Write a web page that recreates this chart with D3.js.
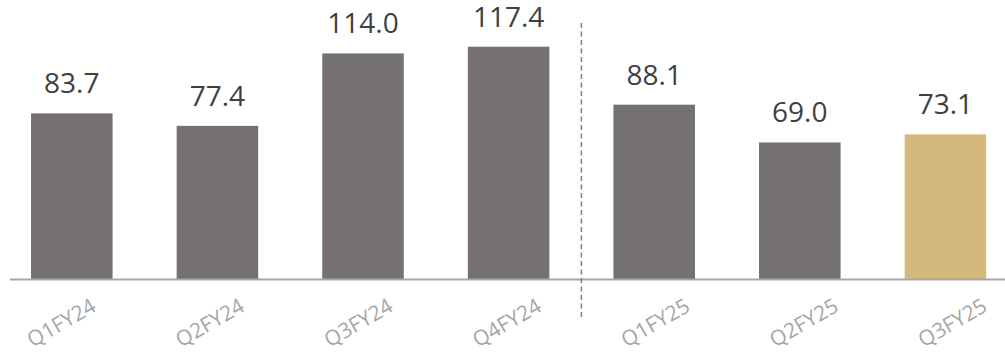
<!DOCTYPE html>
<html><head><meta charset="utf-8">
<script src="https://cdn.jsdelivr.net/npm/d3@7"></script>
<style>body{margin:0;background:#fff}</style>
</head><body>
<svg id="c" width="1005" height="354"></svg>
<script>
const categories = ["Q1FY24","Q2FY24","Q3FY24","Q4FY24","Q1FY25","Q2FY25","Q3FY25"];
const values = [83.7, 77.4, 114.0, 117.4, 88.1, 69.0, 73.1];
const highlight = ["Q3FY25"];
const dividerAfter = "Q4FY24";

const svg = d3.select("#c");
const step = 145.6;
const x = d3.scaleBand().domain(categories).range([-1, -1 + step*categories.length])
  .paddingInner(0.44).paddingOuter(0.22);
// category label positions (labels are spaced slightly wider than the bars)
const xl = d3.scalePoint().domain(categories).range([61, 952]);
const y = d3.scaleLinear().domain([0, 141]).range([279, 0]);

svg.selectAll("rect.bar").data(categories).join("rect")
  .attr("x", d => x(d)).attr("width", x.bandwidth())
  .attr("y", (d,i) => y(values[i])).attr("height", (d,i) => y(0) - y(values[i]))
  .attr("fill", d => highlight.includes(d) ? "#d4b87c" : "#767171");

// axis baseline
svg.append("line").attr("x1", 10).attr("x2", 1005).attr("y1", y(0)+0.5).attr("y2", y(0)+0.5)
  .attr("stroke", "#a6a6a6").attr("stroke-width", 2);

// divider
const i4 = categories.indexOf(dividerAfter);
const dx = (x(categories[i4]) + x.bandwidth() + x(categories[i4+1])) / 2;
svg.append("line").attr("x1", dx).attr("x2", dx).attr("y1", 23).attr("y2", 320)
  .attr("stroke", "#7f7f7f").attr("stroke-width", 1.5).attr("stroke-dasharray", "5,3.5");

// value labels
svg.selectAll("text.val").data(categories).join("text")
  .attr("x", d => x(d) + x.bandwidth()/2).attr("y", (d,i) => y(values[i]) - 20)
  .attr("text-anchor", "middle").attr("fill", "#404040")
  .style("font-family", "'Open Sans', sans-serif").style("font-size", "28px")
  .text((d,i) => values[i].toFixed(1));

// category labels
svg.selectAll("text.cat").data(categories).join("text")
  .attr("transform", d => `translate(${xl(d)},322) rotate(-30)`)
  .attr("text-anchor", "middle").attr("dominant-baseline", "central").attr("fill", "#a6a6a6")
  .style("font-family", "'Open Sans', sans-serif").style("font-size", "21px")
  .text(d => d);
</script>
</body></html>
